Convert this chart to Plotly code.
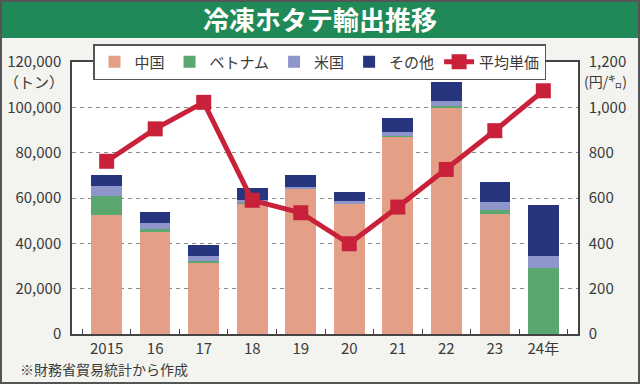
import plotly.graph_objects as go

years = ["2015", "16", "17", "18", "19", "20", "21", "22", "23", "24年"]
china = [52500, 45000, 31700, 57500, 64000, 57500, 87000, 100000, 52900, 0]
vietnam = [8500, 1500, 500, 500, 300, 200, 300, 500, 1800, 28900]
usa = [4500, 2500, 2200, 1300, 700, 800, 1600, 2300, 3500, 5600]
other = [4700, 4900, 4800, 5000, 5200, 4300, 6200, 8300, 8800, 22400]
price = [762, 905, 1022, 590, 535, 398, 560, 726, 897, 1073]

left_ticks = [0, 20000, 40000, 60000, 80000, 100000, 120000]
right_ticks = [0, 200, 400, 600, 800, 1000, 1200]

FONT = "Noto Sans CJK JP"
TXT = "#3a3a3a"

fig = go.Figure()
series = [("中国", china, "#e3a087"), ("ベトナム", vietnam, "#5aa86f"),
          ("米国", usa, "#8e95cb"), ("その他", other, "#27357f")]
for name, vals, col in series:
    fig.add_trace(go.Bar(x=years, y=vals, name=name, marker=dict(color=col, line=dict(width=0)),
                         yaxis="y"))
fig.add_trace(go.Scatter(x=years, y=price, name="平均単価", yaxis="y2", mode="lines+markers",
                         line=dict(color="#c9213a", width=5),
                         marker=dict(symbol="square", size=15, color="#c9213a")))

# plot area: x 72..578, y 62..334 px
W, H = 640, 384
L, R, T, B = 72, 62, 62, 50
pw, ph = W - L - R, H - T - B

def px(x):
    return (x - L) / pw

def py(y):
    return (H - B - y) / ph

shapes = [
    # title band
    dict(type="rect", xref="paper", yref="paper", x0=px(0), x1=px(W), y0=py(38), y1=py(0),
         fillcolor="#1f8a57", line=dict(width=0), layer="below"),
    # outer frame
    dict(type="rect", xref="paper", yref="paper", x0=px(1), x1=px(W - 1), y0=py(H - 1), y1=py(1),
         fillcolor="rgba(0,0,0,0)", line=dict(color="#555", width=2)),
]

annotations = [
    dict(text="<b>冷凍ホタテ輸出推移</b>", xref="paper", yref="paper", x=px(320), y=py(19),
         xanchor="center", yanchor="middle", showarrow=False,
         font=dict(family=FONT, size=26, color="white")),
    dict(text="（トン）", xref="paper", yref="paper", x=px(66), y=py(81),
         xanchor="right", yanchor="middle", showarrow=False,
         font=dict(family=FONT, size=15, color=TXT)),
    dict(text="(円/㌔)", xref="paper", yref="paper", x=px(582), y=py(81),
         xanchor="left", yanchor="middle", showarrow=False,
         font=dict(family=FONT, size=14, color=TXT)),
    dict(text="※財務省貿易統計から作成", xref="paper", yref="paper", x=px(18), y=py(369),
         xanchor="left", yanchor="middle", showarrow=False,
         font=dict(family=FONT, size=14, color=TXT)),
]

fig.update_layout(
    width=W, height=H,
    margin=dict(l=L, r=R, t=T, b=B, autoexpand=False),
    paper_bgcolor="#f3f3f0", plot_bgcolor="white",
    barmode="stack", bargap=0.37,
    font=dict(family=FONT, size=15, color=TXT),
    showlegend=True,
    legend=dict(orientation="h", xref="container", yref="container",
                x=93 / W, y=1 - 62 / H, xanchor="left", yanchor="middle",
                bgcolor="white", bordercolor="#555", borderwidth=1.5,
                font=dict(family=FONT, size=15, color=TXT),
                itemwidth=30, tracegroupgap=0, traceorder="normal"),
    xaxis=dict(type="category", showline=True, linecolor="#444", linewidth=1.5, mirror=True,
               ticks="inside", tickson="boundaries", ticklen=5, tickcolor="#444",
               automargin=False,
               tickfont=dict(family=FONT, size=15, color=TXT), showgrid=False),
    yaxis=dict(range=[0, 120000], tickvals=left_ticks, tickformat=",d",
               showline=True, linecolor="#444", linewidth=1.5, automargin=False,
               showgrid=True, gridcolor="#888", griddash="4px,4px", gridwidth=1,
               zeroline=False, ticks="", ticklabelstandoff=6,
               tickfont=dict(family=FONT, size=15, color=TXT)),
    yaxis2=dict(range=[0, 1200], tickvals=right_ticks, tickformat=",d", overlaying="y",
                side="right", showline=True, linecolor="#444", linewidth=1.5,
                showgrid=False, zeroline=False, ticks="", ticklabelstandoff=6, automargin=False,
                tickfont=dict(family=FONT, size=15, color=TXT)),
    shapes=shapes, annotations=annotations,
)

fig.write_html("out.html", config={"displayModeBar": False},
               post_script="document.body.style.margin='0';document.body.style.overflow='hidden';")
